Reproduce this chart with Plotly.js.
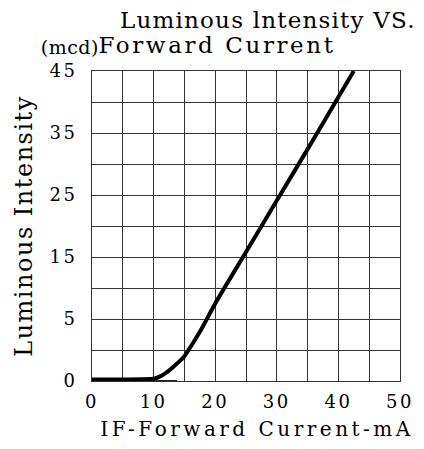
<!DOCTYPE html>
<html>
<head>
<meta charset="utf-8">
<script src="https://cdn.plot.ly/plotly-3.0.1.min.js"></script>
<style>
  html, body { margin: 0; padding: 0; background: #fff; }
  #chart { width: 424px; height: 449px; }
  .gtitle { letter-spacing: 1.2px; }
  .annotation[data-index="0"] .annotation-text { letter-spacing: 2.6px; }
  .annotation[data-index="1"] .annotation-text { letter-spacing: 0.5px; }
  .xtitle { letter-spacing: 3.5px; transform: translateX(11px); }
  .ytitle { letter-spacing: 1.5px; }
  .xtick text, .ytick text { letter-spacing: 2.5px; }
</style>
</head>
<body>
<div id="chart"></div>
<script>
// Forward current (mA)
const currentMA = [0, 5, 10, 11, 12, 13, 14, 15, 16, 17, 18, 20, 25, 30, 35, 40, 42.5];
// Luminous intensity (mcd), read against the printed tick labels
const intensity = [-4.75, -4.75, -4.65, -4.3, -3.7, -2.9, -2.0, -1.0, 0.5, 2.1, 3.8, 7.5, 15.8, 24.1, 32.4, 40.8, 45];
// thin baseline stroke drawn under the curve in the original
const baseX = [0, 13.8];
const baseY = [-5, -5];

const xTickVals = [0, 10, 20, 30, 40, 50];
const xTickText = ['0', '10', '20', '30', '40', '50'];
const yTickVals = [-5, 5, 15, 25, 35, 45];
const yTickText = ['0', '5', '15', '25', '35', '45'];

const FONT = 'DejaVu Serif, Liberation Serif, serif';
const GRID = '#333333';

const traces = [
  {
    x: baseX, y: baseY, type: 'scatter', mode: 'lines',
    line: { color: '#222', width: 2 }, cliponaxis: false, hoverinfo: 'skip', showlegend: false
  },
  {
    x: currentMA, y: intensity, type: 'scatter', mode: 'lines',
    line: { color: '#000', width: 4, shape: 'spline', smoothing: 0.5 },
    cliponaxis: false, showlegend: false
  }
];

const layout = {
  width: 424, height: 449,
  margin: { l: 92, r: 24, t: 71, b: 68, pad: 0 },
  paper_bgcolor: '#fff', plot_bgcolor: '#fff',
  font: { family: FONT, color: '#000', size: 18 },
  title: {
    text: 'Luminous lntensity VS.',
    font: { family: FONT, size: 23, color: '#000' },
    xref: 'container', yref: 'container',
    x: 120 / 424, xanchor: 'left',
    y: (449 - 20) / 449, yanchor: 'middle'
  },
  xaxis: {
    range: [0, 50], tickmode: 'array', tickvals: xTickVals, ticktext: xTickText,
    showgrid: true, gridcolor: GRID, gridwidth: 1,
    minor: { dtick: 5, tick0: 0, showgrid: true, gridcolor: GRID, gridwidth: 1, ticks: '' },
    showline: true, linecolor: GRID, linewidth: 1, mirror: true,
    ticks: '', ticklabelstandoff: 4, zeroline: false,
    tickfont: { family: FONT, size: 18, color: '#000' },
    title: { text: 'IF-Forward Current-mA', font: { family: FONT, size: 20, color: '#000' }, standoff: 11 },
    fixedrange: true
  },
  yaxis: {
    range: [-5, 45], tickmode: 'array', tickvals: yTickVals, ticktext: yTickText,
    showgrid: true, gridcolor: GRID, gridwidth: 1,
    minor: { dtick: 5, tick0: 0, showgrid: true, gridcolor: GRID, gridwidth: 1, ticks: '' },
    showline: true, linecolor: GRID, linewidth: 1, mirror: true,
    ticks: '', ticklabelstandoff: 10, zeroline: false,
    tickfont: { family: FONT, size: 18, color: '#000' },
    title: { text: 'Luminous Intensity', font: { family: FONT, size: 24, color: '#000' }, standoff: 10 },
    fixedrange: true
  },
  annotations: [
    {
      text: 'Forward Current', xref: 'paper', yref: 'paper',
      x: (217 - 92) / 308, xanchor: 'center',
      y: (381 - 45) / 310, yanchor: 'middle',
      showarrow: false, font: { family: FONT, size: 23, color: '#000' }
    },
    {
      text: '(mcd)', xref: 'paper', yref: 'paper',
      x: (70 - 92) / 308, xanchor: 'center',
      y: (381 - 47) / 310, yanchor: 'middle',
      showarrow: false, font: { family: FONT, size: 19, color: '#000' }
    }
  ],
  showlegend: false
};

Plotly.newPlot('chart', traces, layout, { staticPlot: true, displayModeBar: false });
</script>
</body>
</html>
